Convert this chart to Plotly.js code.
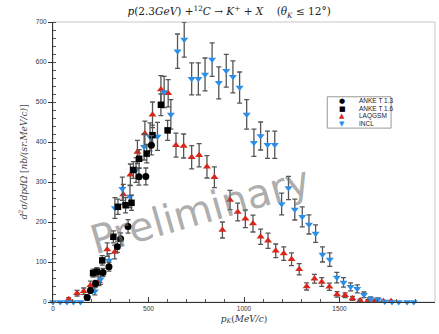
<!DOCTYPE html>
<html>
<head>
<meta charset="utf-8">
<script src="https://cdn.plot.ly/plotly-3.0.1.min.js"></script>
<style>html,body{margin:0;padding:0;background:#fff;}#chart{width:439px;height:334px;}</style>
</head>
<body>
<div id="chart"></div>
<script>
// ---- Data ----
const anke13_p   = [179, 196, 223, 262, 293, 337, 354, 393, 450, 486, 515];
const anke13_sig = [11, 29, 46, 74, 88, 138, 158, 189, 313, 314, 392];
const anke13_err = [4, 7, 8, 10, 11, 14, 15, 17, 21, 21, 24];

const anke16_p   = [210, 230, 258, 316, 340, 380, 411, 421, 451, 491, 521, 565, 600];
const anke16_sig = [72, 76, 104, 163, 238, 242, 248, 330, 358, 371, 417, 493, 429];
const anke16_err = [10, 10, 12, 15, 19, 19, 19, 21, 23, 23, 25, 27, 25];

const laq_p   = [82, 126, 161, 196, 240, 284, 323, 368, 405, 442, 481, 521, 565, 603, 644, 684, 726, 765, 806, 845, 887, 927, 967, 1007, 1047, 1087, 1126, 1166, 1208, 1249, 1289, 1328, 1369, 1407, 1447, 1487, 1529, 1568, 1608, 1649, 1687, 1730, 1770];
const laq_sig = [7, 22, 27, 42, 52, 131, 125, 269, 318, 375, 421, 468, 531, 522, 392, 390, 362, 367, 338, 312, 180, 255, 225, 208, 196, 163, 153, 128, 121, 107, 82, 39, 58, 50, 38, 19, 17, 9, 4, 3, 3, 2, 2];
const laq_err = [4, 7, 8, 10, 11, 17, 17, 25, 27, 29, 31, 32, 35, 34, 30, 30, 29, 29, 28, 26, 20, 24, 22, 22, 21, 19, 19, 17, 17, 16, 14, 9, 11, 11, 9, 7, 6, 5, 3, 3, 3, 2, 2];

const incl_p   = [0, 38, 73, 107, 144, 179, 219, 249, 293, 324, 363, 403, 435, 477, 508, 547, 582, 617, 652, 687, 726, 761, 796, 833, 868, 907, 942, 977, 1014, 1052, 1087, 1123, 1161, 1197, 1233, 1266, 1305, 1340, 1375, 1411, 1449, 1486, 1521, 1558, 1593, 1628, 1663, 1702, 1737, 1775, 1810, 1854, 1889];
const incl_sig = [0, 0, 0, 0, 0, 11, 27, 57, 104, 235, 283, 264, 330, 388, 413, 414, 525, 469, 627, 656, 558, 558, 569, 606, 548, 578, 563, 536, 469, 398, 415, 393, 393, 245, 285, 231, 213, 194, 171, 119, 106, 61, 49, 38, 33, 18, 8, 6, 1, 0, 0, 0, 0];
const incl_err = [0, 0, 0, 0, 0, 6, 9, 13, 17, 26, 29, 28, 31, 33, 35, 35, 39, 37, 43, 44, 40, 40, 41, 42, 40, 41, 40, 39, 37, 34, 35, 34, 34, 27, 29, 26, 25, 24, 22, 19, 17, 13, 12, 10, 10, 7, 5, 4, 2, 0, 0, 0, 0];

const seriesNames = ['ANKE T 1.3', 'ANKE T 1.6', 'LAQGSM', 'INCL'];
const xTicks = [0, 500, 1000, 1500, 2000];
const yTicks = [0, 100, 200, 300, 400, 500, 600, 700];

// ---- Styling ----
const RED = '#d8281c', BLUE = '#2b8fe8', BLK = '#000000';
const errStyle = (arr) => ({type: 'data', array: arr, visible: true, color: '#555', thickness: 1.3, width: 2.5});

function tr(x, y, e, sym, col, size, name) {
  return {
    x: x, y: y, type: 'scatter', mode: 'markers', name: name,
    marker: {symbol: sym, color: col, size: size, line: {width: 0}},
    error_y: errStyle(e), cliponaxis: false, showlegend: false
  };
}

const data = [
  tr(laq_p, laq_sig, laq_err, 'triangle-up', RED, 7, seriesNames[2]),
  tr(incl_p, incl_sig, incl_err, 'triangle-down', BLUE, 7, seriesNames[3]),
  tr(anke16_p, anke16_sig, anke16_err, 'square', BLK, 6.5, seriesNames[1]),
  tr(anke13_p, anke13_sig, anke13_err, 'circle', BLK, 7, seriesNames[0])
];

// custom compact legend (text + box)
const L = {x0: 0.718, x1: 0.885, y0: 0.621, y1: 0.733};
const rowsY = [0.719, 0.690, 0.663, 0.637];
const legSym = [['●', BLK], ['■', BLK], ['▲', RED], ['▼', BLUE]];
const annotations = [];
seriesNames.forEach((n, i) => {
  annotations.push({xref: 'paper', yref: 'paper', x: 0.757, y: rowsY[i], text: legSym[i][0],
    showarrow: false, xanchor: 'center', yanchor: 'middle',
    font: {family: 'DejaVu Sans', size: 7, color: legSym[i][1]}});
  annotations.push({xref: 'paper', yref: 'paper', x: 0.797, y: rowsY[i], text: n,
    showarrow: false, xanchor: 'left', yanchor: 'middle',
    font: {family: 'Liberation Sans', size: 6.5, color: '#222'}});
});
annotations.push({xref: 'paper', yref: 'paper', x: 0.385, y: 0.33, text: 'Preliminary',
  showarrow: false, textangle: -16, xanchor: 'center', yanchor: 'middle',
  font: {family: 'DejaVu Sans', size: 40, color: 'rgba(120,120,120,0.62)'}});

const tickFont = {family: 'Liberation Sans', size: 6.5, color: '#333'};
const layout = {
  width: 439, height: 334,
  margin: {l: 53, r: 4, t: 22, b: 32, pad: 0},
  paper_bgcolor: '#fff', plot_bgcolor: '#fff',
  title: {
    text: '<i>p</i>(2.3<i>GeV</i>) +<sup>12</sup><i>C</i> → <i>K</i><sup>+</sup> + <i>X</i>    (<i>θ<sub>K</sub></i> ≤ 12°)',
    font: {family: 'DejaVu Serif', size: 10.5, color: '#222'},
    xref: 'container', x: 0.522, xanchor: 'center', yref: 'container', y: 0.965, yanchor: 'middle'
  },
  xaxis: {
    range: [0, 2000], tickvals: xTicks, ticktext: xTicks.map(String),
    ticks: 'inside', ticklen: 5, tickcolor: '#333', tickwidth: 1,
    minor: {dtick: 100, ticks: 'inside', ticklen: 3, tickcolor: '#555'},
    showline: true, linecolor: '#333', linewidth: 1, showgrid: false, zeroline: false,
    tickfont: tickFont,
    title: {text: '<i>p<sub>K</sub></i>(<i>MeV/c</i>)', font: {family: 'DejaVu Serif', size: 9, color: '#333'}, standoff: 4}
  },
  yaxis: {
    range: [0, 700], tickvals: yTicks, ticktext: yTicks.map(String),
    ticks: 'outside', ticklen: 4, tickcolor: '#333', tickwidth: 1,
    minor: {dtick: 20, ticks: 'inside', ticklen: 2.5, tickcolor: '#555'},
    showline: true, linecolor: '#333', linewidth: 1, showgrid: false, zeroline: false,
    tickfont: tickFont,
    title: {text: '<i>d<sup>2</sup>σ/dpdΩ</i> [<i>nb/(sr.MeV/c)</i>]', font: {family: 'DejaVu Serif', size: 9, color: '#444'}, standoff: 6}
  },
  shapes: [
    {type: 'rect', xref: 'paper', yref: 'paper', x0: 0, x1: 1, y0: 0, y1: 1, line: {color: '#c8c8c8', width: 1}, layer: 'below'},
    {type: 'rect', xref: 'paper', yref: 'paper', x0: L.x0, x1: L.x1, y0: L.y0, y1: L.y1, line: {color: '#999', width: 1}, fillcolor: '#fff', layer: 'above'}
  ],
  annotations: annotations,
  showlegend: false
};

Plotly.newPlot('chart', data, layout, {displayModeBar: false, staticPlot: true});
</script>
</body>
</html>
